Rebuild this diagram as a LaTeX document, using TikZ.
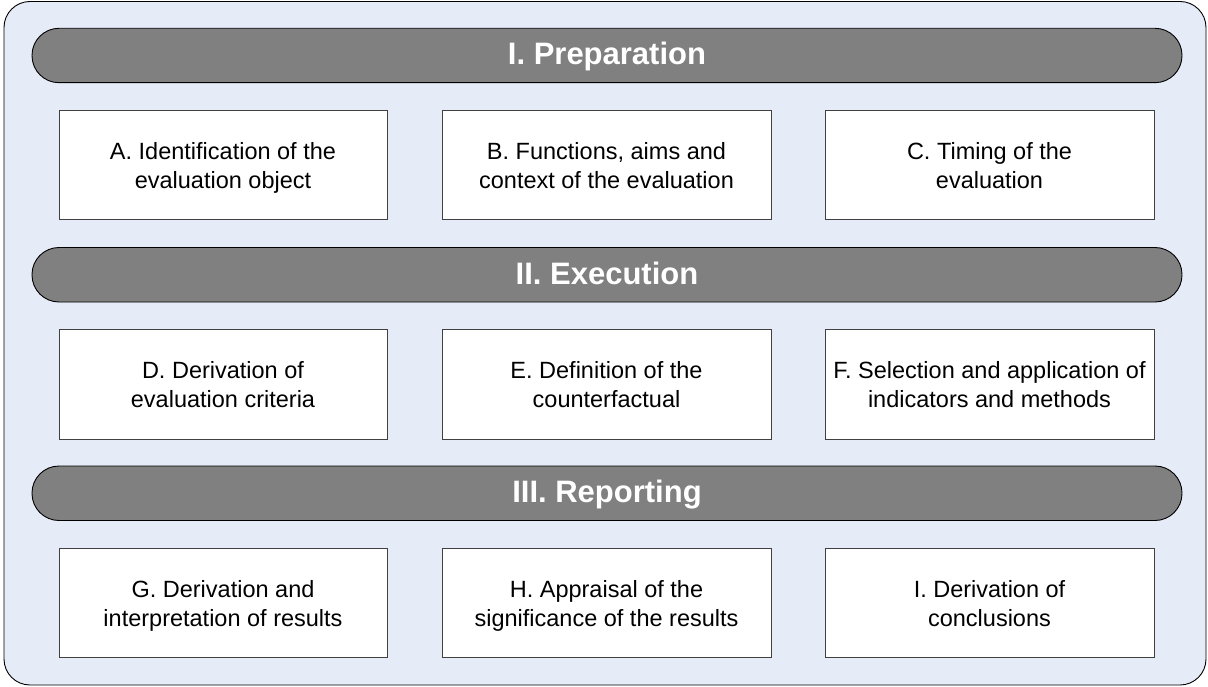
\documentclass[tikz,border=0pt]{standalone}
\usepackage{fontspec}
\setmainfont{Liberation Sans}
\definecolor{bgblue}{HTML}{E6ECF7}
\definecolor{bargray}{HTML}{808080}
\definecolor{boxline}{HTML}{404040}
\newcommand\lnst{\vphantom{Ag}}
\begin{document}
\begin{tikzpicture}[x=1pt,y=-1pt,
  phasebar/.style={draw=black,line width=0.9pt,fill=bargray,rounded corners=27pt},
  stepbox/.style={draw=boxline,line width=0.9pt,fill=white},
  bartext/.style={text=white,anchor=base,font=\fontsize{31}{34}\selectfont\bfseries},
  boxtext/.style={align=center,font=\fontsize{23.5}{28.5}\selectfont}]
\useasboundingbox (0,0) rectangle (1208,687);
\draw[fill=bgblue,draw=black,line width=0.9pt,rounded corners=26pt] (4,1.5) rectangle (1206,685);
% bars
\draw[phasebar] (32,28.3) rectangle (1182,82.7);
\node[bartext] (p1) at (607,65) {I. Preparation};
\draw[phasebar] (32,247.5) rectangle (1182,302);
\node[bartext] (p2) at (607,284.2) {II. Execution};
\draw[phasebar] (32,466) rectangle (1182,520.5);
\node[bartext] (p3) at (607,502.7) {III. Reporting};
% boxes row 1
\draw[stepbox] (59,110) rectangle (387,219.5);
\node[boxtext] (a) at (223,168) {\lnst A. Identification of the\\\lnst evaluation object};
\draw[stepbox] (442,110) rectangle (771,219.5);
\node[boxtext] (b) at (606.5,168) {\lnst B. Functions, aims and\\\lnst context of the evaluation};
\draw[stepbox] (825,110) rectangle (1154,219.5);
\node[boxtext] (c) at (989.5,168) {\lnst C. Timing of the\\\lnst evaluation};
% row 2
\draw[stepbox] (59,329.3) rectangle (387,439);
\node[boxtext] (d) at (223,387) {\lnst D. Derivation of\\\lnst evaluation criteria};
\draw[stepbox] (442,329.3) rectangle (771,439);
\node[boxtext] (e) at (606.5,387) {\lnst E. Definition of the\\\lnst counterfactual};
\draw[stepbox] (825,329.3) rectangle (1154,439);
\node[boxtext] (f) at (989.5,387) {\lnst F. Selection and application of\\\lnst indicators and methods};
% row 3
\draw[stepbox] (59,548) rectangle (387,657.5);
\node[boxtext] (g) at (223,606) {\lnst G. Derivation and\\\lnst interpretation of results};
\draw[stepbox] (442,548) rectangle (771,657.5);
\node[boxtext] (h) at (606.5,606) {\lnst H. Appraisal of the\\\lnst significance of the results};
\draw[stepbox] (825,548) rectangle (1154,657.5);
\node[boxtext] (i) at (989.5,606) {\lnst I. Derivation of\\\lnst conclusions};
\end{tikzpicture}
\end{document}
